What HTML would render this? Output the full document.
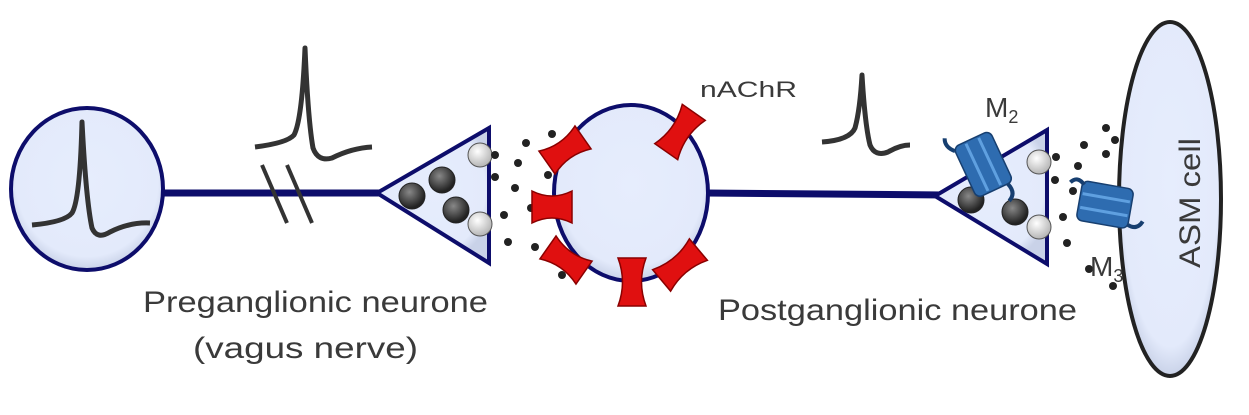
<!DOCTYPE html>
<html><head><meta charset="utf-8"><style>
html,body{margin:0;padding:0;background:#fff;}
svg{display:block;}
text{font-family:"Liberation Sans",sans-serif;fill:#3a3a3a;}
</style></head><body>
<svg width="1249" height="415" viewBox="0 0 1249 415" xmlns="http://www.w3.org/2000/svg">
<defs>
<radialGradient id="cell" cx="50%" cy="45%" r="55%">
<stop offset="0%" stop-color="#e6edfd"/><stop offset="85%" stop-color="#e3eafb"/><stop offset="100%" stop-color="#c9d2e8"/>
</radialGradient>
<radialGradient id="ves" cx="40%" cy="35%" r="60%"><stop offset="0%" stop-color="#888"/><stop offset="100%" stop-color="#222"/></radialGradient>
<radialGradient id="wv" cx="40%" cy="35%" r="60%"><stop offset="0%" stop-color="#fff"/><stop offset="100%" stop-color="#bbb"/></radialGradient>
</defs>
<line x1="160" y1="193" x2="385" y2="193" stroke="#0d0d6b" stroke-width="7"/>
<line x1="705" y1="193" x2="945" y2="195" stroke="#0d0d6b" stroke-width="7"/>
<ellipse cx="87" cy="189" rx="76" ry="81" fill="url(#cell)" stroke="#0d0d6b" stroke-width="4"/>
<path d="M32 225 Q65 222 72 213 Q80 200 82 122 Q86 200 92 228 Q97 240 110 232 Q130 222 150 223" fill="none" stroke="#333" stroke-width="5" stroke-linejoin="round"/>
<line x1="262" y1="165" x2="287" y2="223" stroke="#333" stroke-width="4"/>
<line x1="287" y1="165" x2="312" y2="223" stroke="#333" stroke-width="4"/>
<path d="M255 147 Q287 143 294 135 Q302 120 305 48 Q308 120 313 148 Q318 162 332 158 Q352 148 372 147" fill="none" stroke="#333" stroke-width="5" stroke-linejoin="round"/>
<polygon points="377,193 489,128 489,263" fill="url(#cell)" stroke="#0d0d6b" stroke-width="4"/>
<g fill="url(#ves)" stroke="#222"><circle cx="412" cy="196" r="13"/><circle cx="442" cy="180" r="13"/><circle cx="456" cy="210" r="13"/></g>
<g fill="url(#wv)" stroke="#555"><circle cx="480" cy="155" r="12"/><circle cx="480" cy="224" r="12"/></g>
<g fill="#222">
<circle cx="495" cy="155" r="4"/><circle cx="526" cy="143" r="4"/><circle cx="518" cy="163" r="4"/><circle cx="495" cy="177" r="4"/><circle cx="515" cy="188" r="4"/><circle cx="548" cy="175" r="4"/><circle cx="504" cy="215" r="4"/><circle cx="508" cy="242" r="4"/><circle cx="535" cy="247" r="4"/><circle cx="531" cy="208" r="4"/><circle cx="552" cy="134" r="4"/><circle cx="562" cy="275" r="4"/>
</g>
<ellipse cx="631" cy="193" rx="77" ry="88" fill="url(#cell)" stroke="#0d0d6b" stroke-width="4"/>
<g fill="#e01010" stroke="#8a0000" stroke-width="1.5">
<g transform="translate(565,150) rotate(-35)"><path d="M-22 -14 Q0 -5 22 -14 L22 14 Q0 5 -22 14 Z"/></g>
<g transform="translate(552,207)"><path d="M-20 -16 Q0 -6 20 -16 L20 16 Q0 6 -20 16 Z"/></g>
<g transform="translate(566,260) rotate(35)"><path d="M-22 -14 Q0 -5 22 -14 L22 14 Q0 5 -22 14 Z"/></g>
<g transform="translate(632,282) rotate(90)"><path d="M-24 -14 Q0 -5 24 -14 L24 14 Q0 5 -24 14 Z"/></g>
<g transform="translate(680,265) rotate(-40)"><path d="M-24 -14 Q0 -5 24 -14 L24 14 Q0 5 -24 14 Z"/></g>
<g transform="translate(680,132) rotate(-55)"><path d="M-24 -14 Q0 -5 24 -14 L24 14 Q0 5 -24 14 Z"/></g>
</g>
<path d="M822 142 Q850 140 855 128 Q860 110 862 75 Q865 125 870 145 Q875 157 888 152 Q900 145 910 145" fill="none" stroke="#333" stroke-width="5" stroke-linejoin="round"/>
<polygon points="935,196 1047,130 1047,264" fill="url(#cell)" stroke="#0d0d6b" stroke-width="4"/>
<g fill="url(#ves)" stroke="#222"><circle cx="971" cy="200" r="13"/><circle cx="1015" cy="212" r="13"/></g>
<g fill="url(#wv)" stroke="#555"><circle cx="1039" cy="162" r="12"/><circle cx="1039" cy="227" r="12"/></g>
<g transform="translate(985,168) rotate(-25)" fill="#2e6cb0" stroke="#173f70" stroke-width="1.5">
<rect x="-20" y="-32" width="40" height="56" rx="6"/>
<path d="M-20 -28 q-8 -8 -4 -16" fill="none" stroke-width="4"/><path d="M14 24 q4 12 -6 16" fill="none" stroke-width="4"/>
<line x1="-7" y1="-30" x2="-7" y2="22" stroke="#5fa0e0" stroke-width="3"/><line x1="7" y1="-30" x2="7" y2="22" stroke="#5fa0e0" stroke-width="3"/>
</g>
<g fill="#222">
<circle cx="1106" cy="128" r="4"/><circle cx="1115" cy="140" r="4"/><circle cx="1084" cy="145" r="4"/><circle cx="1106" cy="154" r="4"/><circle cx="1056" cy="157" r="4"/><circle cx="1078" cy="166" r="4"/><circle cx="1055" cy="180" r="4"/><circle cx="1073" cy="191" r="4"/><circle cx="1063" cy="217" r="4"/><circle cx="1067" cy="243" r="4"/><circle cx="1089" cy="269" r="4"/><circle cx="1113" cy="286" r="4"/>
</g>
<ellipse cx="1170" cy="199" rx="51" ry="177" fill="url(#cell)" stroke="#222" stroke-width="4"/>
<g transform="translate(1107,205) rotate(-80)" fill="#2e6cb0" stroke="#173f70" stroke-width="1.5">
<rect x="-20" y="-28" width="40" height="52" rx="6"/>
<line x1="-7" y1="-26" x2="-7" y2="22" stroke="#5fa0e0" stroke-width="3"/><line x1="7" y1="-26" x2="7" y2="22" stroke="#5fa0e0" stroke-width="3"/>
<path d="M-16 24 q-4 10 6 14" fill="none" stroke-width="4"/><path d="M16 -26 q8 -8 0 -14" fill="none" stroke-width="4"/>
</g>
<text x="143" y="312" font-size="30" textLength="345" lengthAdjust="spacingAndGlyphs">Preganglionic neurone</text>
<text x="193" y="358" font-size="30" textLength="225" lengthAdjust="spacingAndGlyphs">(vagus nerve)</text>
<text x="700" y="97" font-size="22" textLength="97" lengthAdjust="spacingAndGlyphs">nAChR</text>
<text x="718" y="320" font-size="30" textLength="359" lengthAdjust="spacingAndGlyphs">Postganglionic neurone</text>
<text x="985" y="117" font-size="28">M<tspan font-size="18" dy="6">2</tspan></text>
<text x="1090" y="276" font-size="28">M<tspan font-size="18" dy="6">3</tspan></text>
<text transform="translate(1200,203) rotate(-90)" text-anchor="middle" font-size="30" textLength="130" lengthAdjust="spacingAndGlyphs">ASM cell</text>
</svg>
</body></html>
